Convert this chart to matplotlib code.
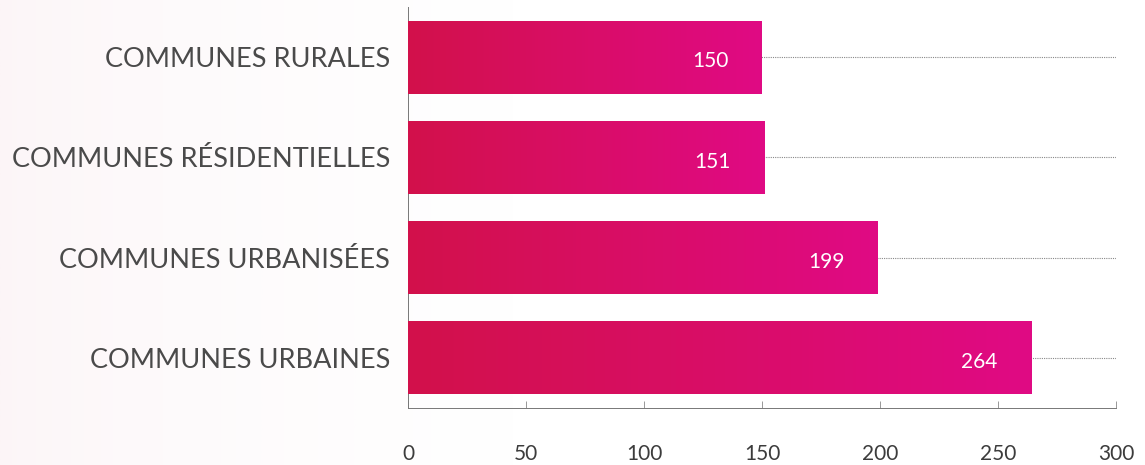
import numpy as np
import matplotlib.pyplot as plt
from matplotlib.colors import LinearSegmentedColormap

categories = ["COMMUNES RURALES", "COMMUNES RÉSIDENTIELLES", "COMMUNES URBANISÉES", "COMMUNES URBAINES"]
values = [150, 151, 199, 264]
x_ticks = [0, 50, 100, 150, 200, 250, 300]

plt.rcParams['font.family'] = ['Lato', 'DejaVu Sans']

fig = plt.figure(figsize=(11.45, 4.65), dpi=100)

# faint pink wash on the left of the picture
bg = fig.add_axes([0, 0, 1, 1], zorder=-10)
bg_cmap = LinearSegmentedColormap.from_list("bg", ["#fcf5f7", "#ffffff"])
bg.imshow(np.linspace(0, 1, 256).reshape(1, -1) ** 0.6, cmap=bg_cmap, aspect='auto',
          extent=[0, 0.45, 0, 1])
bg.set_xlim(0, 1)
bg.set_ylim(0, 1)
bg.axis('off')

ax = fig.add_axes([408 / 1145, 1 - 408 / 465, 708 / 1145, 401 / 465])
ax.patch.set_alpha(0)

bar_cmap = LinearSegmentedColormap.from_list("bar", ["#d2114b", "#e00a84"])
grad = np.linspace(0, 1, 256).reshape(1, -1)

y_pos = np.arange(len(categories))
bars = ax.barh(y_pos, values, height=0.73, color='none', zorder=3)
for bar, v in zip(bars, values):
    x0, y0 = bar.get_x(), bar.get_y()
    w, h = bar.get_width(), bar.get_height()
    im = ax.imshow(grad, cmap=bar_cmap, aspect='auto', extent=[x0, x0 + w, y0 + h, y0], zorder=3)
    im.set_clip_path(bar)
    ax.annotate(str(v), xy=(v, bar.get_y() + h / 2), xytext=(-24, -3), textcoords='offset points',
                ha='right', va='center', color='white', fontsize=15, zorder=5)

ax.set_xlim(0, 300)
ax.set_ylim(len(categories) - 0.5, -0.5)

# dotted gridlines through the bar centres
for y in y_pos:
    ax.axhline(y, color='#888888', lw=0.8, ls=(0, (1, 1)), zorder=1)

ax.set_yticks(y_pos)
ax.set_yticklabels(categories, fontsize=19.5, color='#4a4a4a')
ax.tick_params(axis='y', length=0, pad=13)

ax.set_xticks(x_ticks)
ax.set_xticklabels([str(t) for t in x_ticks], fontsize=15, color='#3c3c3c')
ax.tick_params(axis='x', direction='in', length=5, width=0.6, color='#888888', pad=26)

for s in ['top', 'right']:
    ax.spines[s].set_visible(False)
for s in ['left', 'bottom']:
    ax.spines[s].set_linestyle((0, (1, 1)))
    ax.spines[s].set_color('#777777')
    ax.spines[s].set_linewidth(0.7)

fig.savefig("out.png", dpi=100)
